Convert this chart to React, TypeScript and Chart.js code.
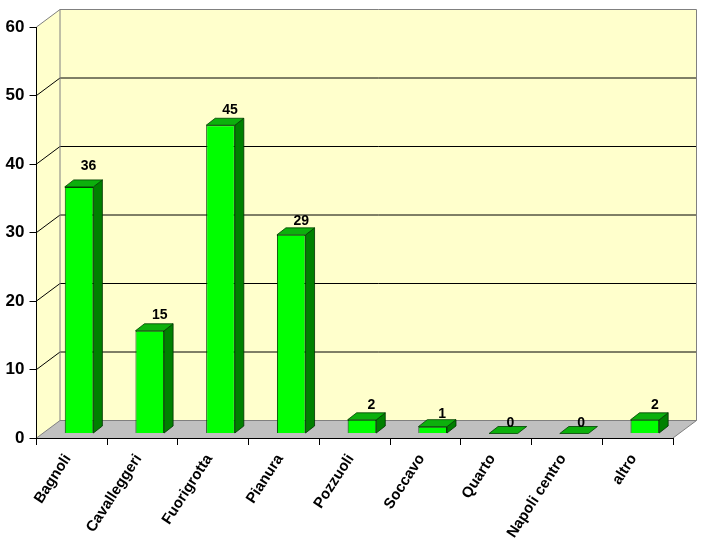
import React, { useEffect, useRef } from "react";
import { Chart, registerables } from "chart.js";

Chart.register(...registerables);

const categories = ["Bagnoli", "Cavalleggeri", "Fuorigrotta", "Pianura", "Pozzuoli", "Soccavo", "Quarto", "Napoli centro", "altro"];
const values = [36, 15, 45, 29, 2, 1, 0, 0, 2];
const yMin = 0;
const yMax = 60;
const yStep = 10;

// styling of the 3D look
const WALL_DX = 23.5;
const WALL_DY = -17.5;
const BAR_DX = 7.2;
const BAR_DY = -4.5;
const DEPTH_X = 9;
const DEPTH_Y = -7;
const labelLift = [13.5, 8.5, 8, 7, 8, 6, 3, 3, 8];
const labelShift = [9.5, 10, 9.5, 10, 9.5, 9.5, 7, 7, 10];

const poly = (ctx: CanvasRenderingContext2D, pts: number[][], fill: string | null, stroke: string | null, lw = 1) => {
  ctx.beginPath();
  pts.forEach((p, i) => (i ? ctx.lineTo(p[0], p[1]) : ctx.moveTo(p[0], p[1])));
  if (fill) {
    ctx.closePath();
    ctx.fillStyle = fill;
    ctx.fill();
  }
  if (stroke) {
    ctx.strokeStyle = stroke;
    ctx.lineWidth = lw;
    ctx.stroke();
  }
};

const walls3d = {
  id: "walls3d",
  beforeDraw(chart: any) {
    const { ctx, scales } = chart;
    const xs = scales.x;
    const ys = scales.y;
    const l = xs.left;
    const r = xs.right;
    const y0 = ys.getPixelForValue(yMin);
    const yT = ys.getPixelForValue(yMax);
    ctx.save();
    ctx.fillStyle = "#ffffff";
    ctx.fillRect(0, 0, chart.width, chart.height);
    // back wall
    poly(ctx, [[l + WALL_DX, yT + WALL_DY], [r + WALL_DX, yT + WALL_DY], [r + WALL_DX, y0 + WALL_DY], [l + WALL_DX, y0 + WALL_DY]], "#ffffcc", null);
    // side wall
    poly(ctx, [[l, yT], [l + WALL_DX, yT + WALL_DY], [l + WALL_DX, y0 + WALL_DY], [l, y0]], "#ffffcc", null);
    // floor
    poly(ctx, [[l, y0], [r, y0], [r + WALL_DX, y0 + WALL_DY], [l + WALL_DX, y0 + WALL_DY]], "#c0c0c0", null);
    // gridlines
    for (let v = yMin + yStep; v < yMax; v += yStep) {
      const y = ys.getPixelForValue(v);
      poly(ctx, [[l, y], [l + WALL_DX, y + WALL_DY], [r + WALL_DX, y + WALL_DY]], null, "#000000");
    }
    // wall edges
    poly(ctx, [[l, yT], [l + WALL_DX, yT + WALL_DY], [r + WALL_DX, yT + WALL_DY], [r + WALL_DX, y0 + WALL_DY], [r, y0]], null, "#808080");
    poly(ctx, [[l + WALL_DX, yT + WALL_DY], [l + WALL_DX, y0 + WALL_DY], [r + WALL_DX, y0 + WALL_DY]], null, "#808080");
    poly(ctx, [[l, y0], [l + WALL_DX, y0 + WALL_DY]], null, "#808080");
    ctx.restore();
  },
  beforeDatasetDraw(chart: any, args: any) {
    const { ctx } = chart;
    ctx.save();
    ctx.translate(BAR_DX, BAR_DY);
    args.meta.data.forEach((el: any) => {
      const x1 = el.x - el.width / 2;
      const x2 = el.x + el.width / 2;
      const t = el.y;
      const b = el.base;
      if (b - t > 0) {
        poly(ctx, [[x2, t], [x2 + DEPTH_X, t + DEPTH_Y], [x2 + DEPTH_X, b + DEPTH_Y], [x2, b]], "#008000", "#003000", 0.8);
      }
      poly(ctx, [[x1, t], [x2, t], [x2 + DEPTH_X, t + DEPTH_Y], [x1 + DEPTH_X, t + DEPTH_Y]], "#0cb00c", "#004000", 0.8);
    });
  },
  afterDatasetDraw(chart: any) {
    chart.ctx.restore();
  },
  afterDatasetsDraw(chart: any) {
    const { ctx } = chart;
    const meta = chart.getDatasetMeta(0);
    ctx.save();
    ctx.fillStyle = "#000000";
    ctx.font = 'bold 14px "Liberation Sans"';
    ctx.textAlign = "center";
    ctx.textBaseline = "middle";
    meta.data.forEach((el: any, i: number) => {
      ctx.fillText(String(values[i]), el.x + BAR_DX + labelShift[i], el.y + BAR_DY + DEPTH_Y - labelLift[i]);
    });
    ctx.restore();
  },
};

export default function App() {
  const ref = useRef<HTMLCanvasElement>(null);
  useEffect(() => {
    const chart = new Chart(ref.current as HTMLCanvasElement, {
      type: "bar",
      data: {
        labels: categories,
        datasets: [
          {
            data: values,
            backgroundColor: "#00ff00",
            borderColor: "#004000",
            borderWidth: 1,
            barPercentage: 0.405,
            categoryPercentage: 1,
            clip: false as any,
          },
        ],
      },
      plugins: [walls3d],
      options: {
        animation: false,
        responsive: false,
        devicePixelRatio: 1,
        layout: { padding: { top: 27, right: 31, left: 0, bottom: 0 } },
        plugins: { legend: { display: false }, tooltip: { enabled: false } },
        scales: {
          x: {
            afterFit: (s: any) => {
              s.height = 110;
            },
            border: { color: "#000000", width: 1 },
            grid: { offset: true, drawOnChartArea: false, drawTicks: true, tickLength: 7, color: "#000000" },
            ticks: {
              autoSkip: false,
              minRotation: 57,
              maxRotation: 57,
              padding: 6,
              labelOffset: -4,
              color: "#000000",
              font: { family: '"Liberation Sans"', size: 15, weight: "bold" },
            },
          },
          y: {
            min: yMin,
            max: yMax,
            afterFit: (s: any) => {
              s.width = 36.5;
            },
            border: { color: "#000000", width: 1 },
            grid: { drawOnChartArea: false, drawTicks: true, tickLength: 7, color: "#000000" },
            ticks: {
              stepSize: yStep,
              padding: 5,
              color: "#000000",
              font: { family: '"Liberation Sans"', size: 17, weight: "bold" },
            },
          },
        },
      } as any,
    });
    return () => chart.destroy();
  }, []);
  return <canvas ref={ref} width={704} height={548} style={{ position: "fixed", left: 0, top: 0, width: 704, height: 548 }} />;
}
